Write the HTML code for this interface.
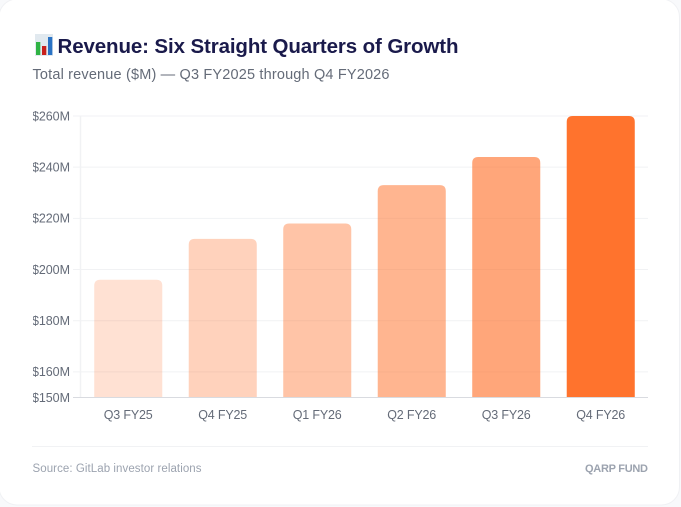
<!DOCTYPE html>
<html lang="en">
<head>
<meta charset="utf-8">
<title>Revenue: Six Straight Quarters of Growth</title>
<style>
html,body{margin:0;padding:0;background:#f8f9fb;width:681px;height:507px;overflow:hidden}
svg{display:block;font-family:"Liberation Sans",sans-serif}
</style>
</head>
<body>
<svg id="chart" width="681" height="507" viewBox="0 0 681 507">
  <defs>
    <clipPath id="label-clip"><rect x="33" y="100" width="60" height="310"/></clipPath>
  </defs>
  <rect x="-1" y="-1" width="680.5" height="506" rx="18" fill="#ffffff" stroke="#f0f1f4"/>
  <g>
    <rect x="35" y="34" width="18" height="22" fill="#e1e9ef"/>
    <rect x="36" y="42" width="4.3" height="13" fill="#2fb344"/>
    <rect x="42" y="46" width="4.3" height="9" fill="#c8201c"/>
    <rect x="48" y="37" width="4.3" height="18" fill="#2a73c5"/>
  </g>
  <text x="57.5" y="53" font-size="20.5" font-weight="700" fill="#1a1a4b" textLength="401" lengthAdjust="spacing">Revenue: Six Straight Quarters of Growth</text>
  <text x="32.5" y="79" font-size="14.5" fill="#646b78" textLength="357" lengthAdjust="spacing">Total revenue ($M) — Q3 FY2025 through Q4 FY2026</text>
  <g id="grid"></g>
  <g id="bars"></g>
  <g id="axes"></g>
  <line x1="32" y1="446.5" x2="648" y2="446.5" stroke="#f1f2f4"/>
  <text x="32.5" y="472" font-size="11.5" fill="#9ca3af" textLength="169" lengthAdjust="spacing">Source: GitLab investor relations</text>
  <text x="648" y="472" font-size="11" font-weight="700" fill="#9ca3af" text-anchor="end" textLength="63" lengthAdjust="spacing">QARP FUND</text>
</svg>
<script>
const categories = ['Q3 FY25', 'Q4 FY25', 'Q1 FY26', 'Q2 FY26', 'Q3 FY26', 'Q4 FY26'];
const revenue = [196, 212, 218, 233, 244, 260];
const tickValues = [150, 160, 180, 200, 220, 240, 260];
const tickLabels = ['$150M', '$160M', '$180M', '$200M', '$220M', '$240M', '$260M'];
const barAlpha = [0.2, 0.3, 0.4, 0.5, 0.6, 0.95];

const NS = 'http://www.w3.org/2000/svg';
const plot = { left: 81, right: 648, top: 116, bottom: 397.5 };
const yMin = 150, yMax = 260;
function yScale(v) {
  return plot.bottom - (v - yMin) / (yMax - yMin) * (plot.bottom - plot.top);
}
const bandWidth = (plot.right - plot.left) / categories.length;
function xCenter(i) {
  return plot.left + bandWidth * (i + 0.5);
}
function make(tag, attrs, parent) {
  const el = document.createElementNS(NS, tag);
  for (const k in attrs) el.setAttribute(k, attrs[k]);
  parent.appendChild(el);
  return el;
}
const gridG = document.getElementById('grid');
const barsG = document.getElementById('bars');
const axesG = document.getElementById('axes');

const yAxis = make('line', { x1: plot.left - 0.5, x2: plot.left - 0.5, y1: plot.top, y2: plot.bottom, stroke: '#f1f2f4', 'stroke-width': 1.5 }, gridG);



tickValues.forEach(function (v, i) {
  const y = yScale(v);
  if (v !== yMin) {
    const line = make('line', { x1: 73, x2: plot.right, y1: y, y2: y, stroke: '#f1f2f4', 'stroke-width': 1 }, gridG);
    
    
  }
  const label = make('text', { x: 70, y: y + 4.3, 'font-size': 12.5, fill: '#646b78', 'text-anchor': 'end', textLength: 38, lengthAdjust: 'spacing', 'clip-path': 'url(#label-clip)' }, axesG);
  label.textContent = tickLabels[i];
  
  
});

const barWidth = bandWidth * 0.72;
revenue.forEach(function (v, i) {
  const x0 = xCenter(i) - barWidth / 2, x1 = xCenter(i) + barWidth / 2;
  const yTop = yScale(v), r = 6;
  const d = 'M' + x0 + ' ' + plot.bottom + 'V' + (yTop + r) + 'Q' + x0 + ' ' + yTop + ' ' + (x0 + r) + ' ' + yTop +
            'H' + (x1 - r) + 'Q' + x1 + ' ' + yTop + ' ' + x1 + ' ' + (yTop + r) + 'V' + plot.bottom + 'Z';
  const bar = make('path', { d: d, fill: '#ff6b22', 'fill-opacity': barAlpha[i] }, barsG);
  
  
  const label = make('text', { x: xCenter(i), y: 419, 'font-size': 12.5, fill: '#646b78', 'text-anchor': 'middle', textLength: 49, lengthAdjust: 'spacing' }, axesG);
  label.textContent = categories[i];
  
  
});

const xAxis = make('line', { x1: 73, x2: plot.right, y1: plot.bottom, y2: plot.bottom, stroke: '#d9dbe0', 'stroke-width': 1 }, axesG);


</script>
</body>
</html>
